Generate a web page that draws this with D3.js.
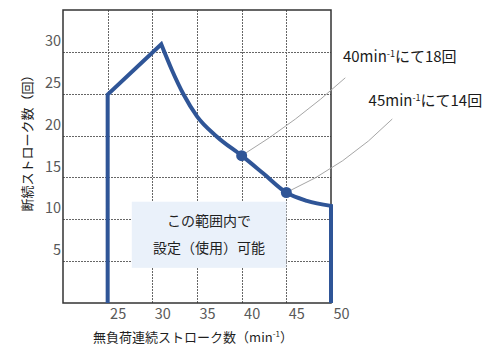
<!DOCTYPE html>
<html>
<head>
<meta charset="utf-8">
<script src="https://cdn.jsdelivr.net/npm/d3@7"></script>
<style>
  html, body { margin: 0; padding: 0; background: #fff; }
  svg { display: block; font-family: "Noto Sans CJK JP", "Noto Sans", sans-serif; }
</style>
</head>
<body>
<div id="chart"></div>
<script>
// 無負荷連続ストローク数 (min-1) vs 断続ストローク数 (回)
var speed   = [25, 25, 31, 32.2, 33.5, 35, 37.2, 40, 42.4, 45, 47.3, 50, 50];
var strokes = [0, 24.9, 30.9, 27.8, 24.9, 22.3, 19.9, 17.6, 15.5, 13.2, 12.2, 11.6, 0];

var markSpeed   = [40, 45];
var markStrokes = [17.6, 13.2];
var markCount   = ['18', '14'];

var xTicks = [25, 30, 35, 40, 45, 50];
var yTicks = [5, 10, 15, 20, 25, 30];

var areaSpeed   = [27.7, 45];
var areaStrokes = [4.2, 12.1];
var areaText    = ['この範囲内で', '設定（使用）可能'];

var W = 500, H = 348;
var plotL = 63, plotT = 10, plotR = 331, plotB = 303;
var blue = '#2f5597';

var svg = d3.select('#chart').append('svg')
    .attr('width', W)
    .attr('height', H);

var x = d3.scaleLinear().domain([20, 50]).range([plotL, plotR]);
var y = d3.scaleLinear().domain([0, 35]).range([plotB, plotT]);

// dotted grid, snapped to whole pixels
var grid = svg.append('g').attr('class', 'grid');
grid.selectAll('.gx').data(xTicks.slice(0, 5)).enter().append('line')
    .attr('class', 'gx')
    .attr('x1', function (d) { return Math.round(x(d)) + 0.5; })
    .attr('x2', function (d) { return Math.round(x(d)) + 0.5; })
    .attr('y1', plotT)
    .attr('y2', plotB);
grid.selectAll('.gy').data(yTicks).enter().append('line')
    .attr('class', 'gy')
    .attr('x1', plotL)
    .attr('x2', plotR)
    .attr('y1', function (d) { return Math.round(y(d)) + 0.5; })
    .attr('y2', function (d) { return Math.round(y(d)) + 0.5; });
grid.selectAll('line')
    .attr('stroke', '#666')
    .attr('stroke-width', 1)
    .attr('stroke-dasharray', '2 1');

// shaded region (covers the grid)
svg.append('rect')
    .attr('x', x(areaSpeed[0]))
    .attr('y', y(areaStrokes[1]))
    .attr('width', x(areaSpeed[1]) - x(areaSpeed[0]))
    .attr('height', y(areaStrokes[0]) - y(areaStrokes[1]))
    .attr('fill', '#eaf1fa');

var cx = (x(areaSpeed[0]) + x(areaSpeed[1])) / 2;
var cy = (y(areaStrokes[0]) + y(areaStrokes[1])) / 2;
svg.selectAll('.area-text').data(areaText).enter().append('text')
    .attr('class', 'area-text')
    .attr('x', cx)
    .attr('y', function (d, i) { return cy + (i - 0.5) * 27; })
    .attr('dy', '0.35em')
    .attr('text-anchor', 'middle')
    .attr('font-size', 14)
    .attr('fill', '#1f1f1f')
    .text(function (d) { return d; });

// frame
svg.append('rect')
    .attr('x', plotL).attr('y', plotT)
    .attr('width', plotR - plotL).attr('height', plotB - plotT)
    .attr('fill', 'none')
    .attr('stroke', '#333')
    .attr('stroke-width', 1.5);

// tick labels (set off from the grid like the original)
svg.append('g')
    .attr('transform', 'translate(0,' + plotB + ')')
    .call(d3.axisBottom(x).tickValues(xTicks).tickSize(0).tickPadding(0))
    .call(function (g) {
        g.select('.domain').remove();
        g.selectAll('text')
            .attr('x', 10).attr('y', 11).attr('dy', '0.35em')
            .attr('font-size', 14.5).attr('fill', '#595959');
    });

svg.append('g')
    .attr('transform', 'translate(' + plotL + ',0)')
    .call(d3.axisLeft(y).tickValues(yTicks).tickSize(0).tickPadding(0))
    .call(function (g) {
        g.select('.domain').remove();
        g.selectAll('text')
            .attr('x', -2).attr('y', -11.5).attr('dy', '0.35em')
            .attr('font-size', 14.5).attr('fill', '#595959');
    });
svg.selectAll('g').attr('font-family', null);

// axis titles
var xt = svg.append('text')
    .attr('x', 193).attr('y', 337).attr('dy', '0.35em')
    .attr('text-anchor', 'middle')
    .attr('font-size', 13)
    .attr('fill', '#1f1f1f');
xt.append('tspan').text('無負荷連続ストローク数（min');
xt.append('tspan').attr('font-size', 8).attr('dy', -5).text('-1');
xt.append('tspan').attr('dy', 5).text('）');

svg.append('text')
    .attr('transform', 'translate(27,140) rotate(-90)')
    .attr('dy', '0.35em')
    .attr('text-anchor', 'middle')
    .attr('font-size', 13)
    .attr('fill', '#1f1f1f')
    .text('断続ストローク数（回）');

// curve: straight edges, smooth falling part
var pts = speed.map(function (s, i) { return [x(s), y(strokes[i])]; });
var straight = d3.line();
var smooth = d3.line().curve(d3.curveMonotoneX);
var d = straight(pts.slice(0, 3)) +
    smooth(pts.slice(2, 12)).replace(/^M[^A-Za-z]*/, '') +
    'L' + pts[12][0] + ',' + pts[12][1];

svg.append('path')
    .attr('d', d)
    .attr('fill', 'none')
    .attr('stroke', blue)
    .attr('stroke-width', 4)
    .attr('stroke-linejoin', 'miter');

// leader lines and notes
var noteEnd  = [[51.6, 26.9], [56.86, 21.98]];
var noteText = [[51.34, 28.82], [54.21, 23.54]];
var bend = [3, 6];

svg.selectAll('.leader').data(markSpeed).enter().append('path')
    .attr('class', 'leader')
    .attr('fill', 'none')
    .attr('stroke', '#a6a6a6')
    .attr('stroke-width', 1)
    .attr('d', function (s, i) {
        var p0 = [x(s), y(markStrokes[i])];
        var p2 = [x(noteEnd[i][0]), y(noteEnd[i][1])];
        var mx = (p0[0] + p2[0]) / 2, my = (p0[1] + p2[1]) / 2;
        var dx = p2[0] - p0[0], dy = p2[1] - p0[1];
        var len = Math.sqrt(dx * dx + dy * dy);
        // push control point down-right of the chord
        var c = [mx - dy / len * bend[i] * 2, my + dx / len * bend[i] * 2];
        var p = d3.path();
        p.moveTo(p0[0], p0[1]);
        p.quadraticCurveTo(c[0], c[1], p2[0], p2[1]);
        return p.toString();
    });

svg.selectAll('.mark').data(markSpeed).enter().append('circle')
    .attr('class', 'mark')
    .attr('cx', function (s) { return x(s); })
    .attr('cy', function (s, i) { return y(markStrokes[i]); })
    .attr('r', 5.5)
    .attr('fill', blue);

markSpeed.forEach(function (s, i) {
    var t = svg.append('text')
        .attr('x', x(noteText[i][0]))
        .attr('y', y(noteText[i][1]))
        .attr('font-size', 15)
        .attr('fill', '#1a1a1a');
    t.append('tspan').text(s + 'min');
    t.append('tspan').attr('font-size', 9).attr('dy', -5).text('-1');
    t.append('tspan').attr('dy', 5).text('にて' + markCount[i] + '回');
});
</script>
</body>
</html>
